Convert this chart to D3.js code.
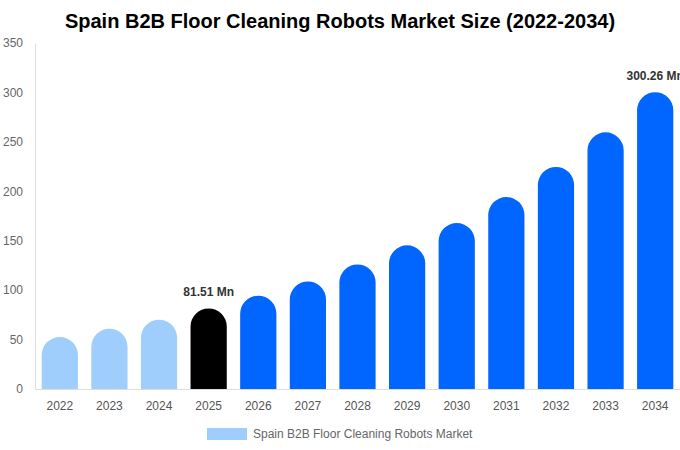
<!DOCTYPE html>
<html><head><meta charset="utf-8">
<script src="https://cdn.jsdelivr.net/npm/d3@7"></script>
<style>body{margin:0;background:#fff;font-family:"Liberation Sans",Arial,sans-serif;}</style>
</head><body><svg id="c" width="680" height="450"></svg>
<script>
const years = ["2022","2023","2024","2025","2026","2027","2028","2029","2030","2031","2032","2033","2034"];
const values = [52.6, 61.0, 70.1, 81.51, 94.4, 108.8, 126.0, 145.3, 167.9, 194.2, 224.6, 259.6, 300.26];
const yTicks = [0, 50, 100, 150, 200, 250, 300, 350];
const labels = {"2025": "81.51 Mn", "2034": "300.26 Mn"};
const seriesName = "Spain B2B Floor Cleaning Robots Market";

const svg = d3.select("#c");
const m = {l: 35, r: 0, t: 43, b: 61};
const W = 680, H = 450;
const x = d3.scaleBand().domain(years).range([m.l, W - m.r]).paddingInner(0.27).paddingOuter(0.135);
const y = d3.scaleLinear().domain([0, 350]).range([H - m.b, m.t]);

svg.append("text").attr("x", 340).attr("y", 28).attr("text-anchor", "middle")
  .attr("font-size", 20).attr("font-weight", "bold").attr("fill", "#000")
  .text("Spain B2B Floor Cleaning Robots Market Size (2022-2034)");

// y axis
const ya = svg.append("g").attr("transform", `translate(${m.l},0)`)
  .call(d3.axisLeft(y).tickValues(yTicks).tickSize(0).tickPadding(12));
ya.select(".domain").attr("stroke", "#ddd");
ya.selectAll("text").attr("font-size", 12).attr("fill", "#666").attr("font-family", "Liberation Sans, Arial, sans-serif");

function color(yr) {
  const i = years.indexOf(yr);
  if (i < 3) return "#a0cefc";
  if (i === 3) return "#000000";
  return "#0066ff";
}

function barPath(yr, v) {
  const x0 = x(yr), w = x.bandwidth(), r = w / 2;
  const y0 = y(0), yt = y(v);
  return `M${x0},${y0} L${x0},${yt + r} A${r},${r} 0 0 1 ${x0 + w},${yt + r} L${x0 + w},${y0} Z`;
}

svg.append("g").selectAll("path").data(years).join("path")
  .attr("d", (d, i) => barPath(d, values[i]))
  .attr("fill", d => color(d));

// baseline
const xa = svg.append("g").attr("transform", `translate(0,${y(0)})`)
  .call(d3.axisBottom(x).tickSize(0).tickPadding(12));
xa.select(".domain").attr("stroke", "#ddd");
xa.selectAll("text").attr("font-size", 12).attr("fill", "#555").attr("font-family", "Liberation Sans, Arial, sans-serif");

svg.append("g").selectAll("text").data(years.filter(d => labels[d])).join("text")
  .attr("x", d => x(d) + x.bandwidth() / 2)
  .attr("y", d => y(values[years.indexOf(d)]) - 12)
  .attr("text-anchor", "middle").attr("font-size", 12).attr("font-weight", "bold").attr("fill", "#333")
  .text(d => labels[d]);

// legend
svg.append("rect").attr("x", 207).attr("y", 428).attr("width", 40).attr("height", 12).attr("fill", "#a0cefc");
svg.append("text").attr("x", 253).attr("y", 438).attr("font-size", 12).attr("fill", "#666").text(seriesName);
</script></body></html>
